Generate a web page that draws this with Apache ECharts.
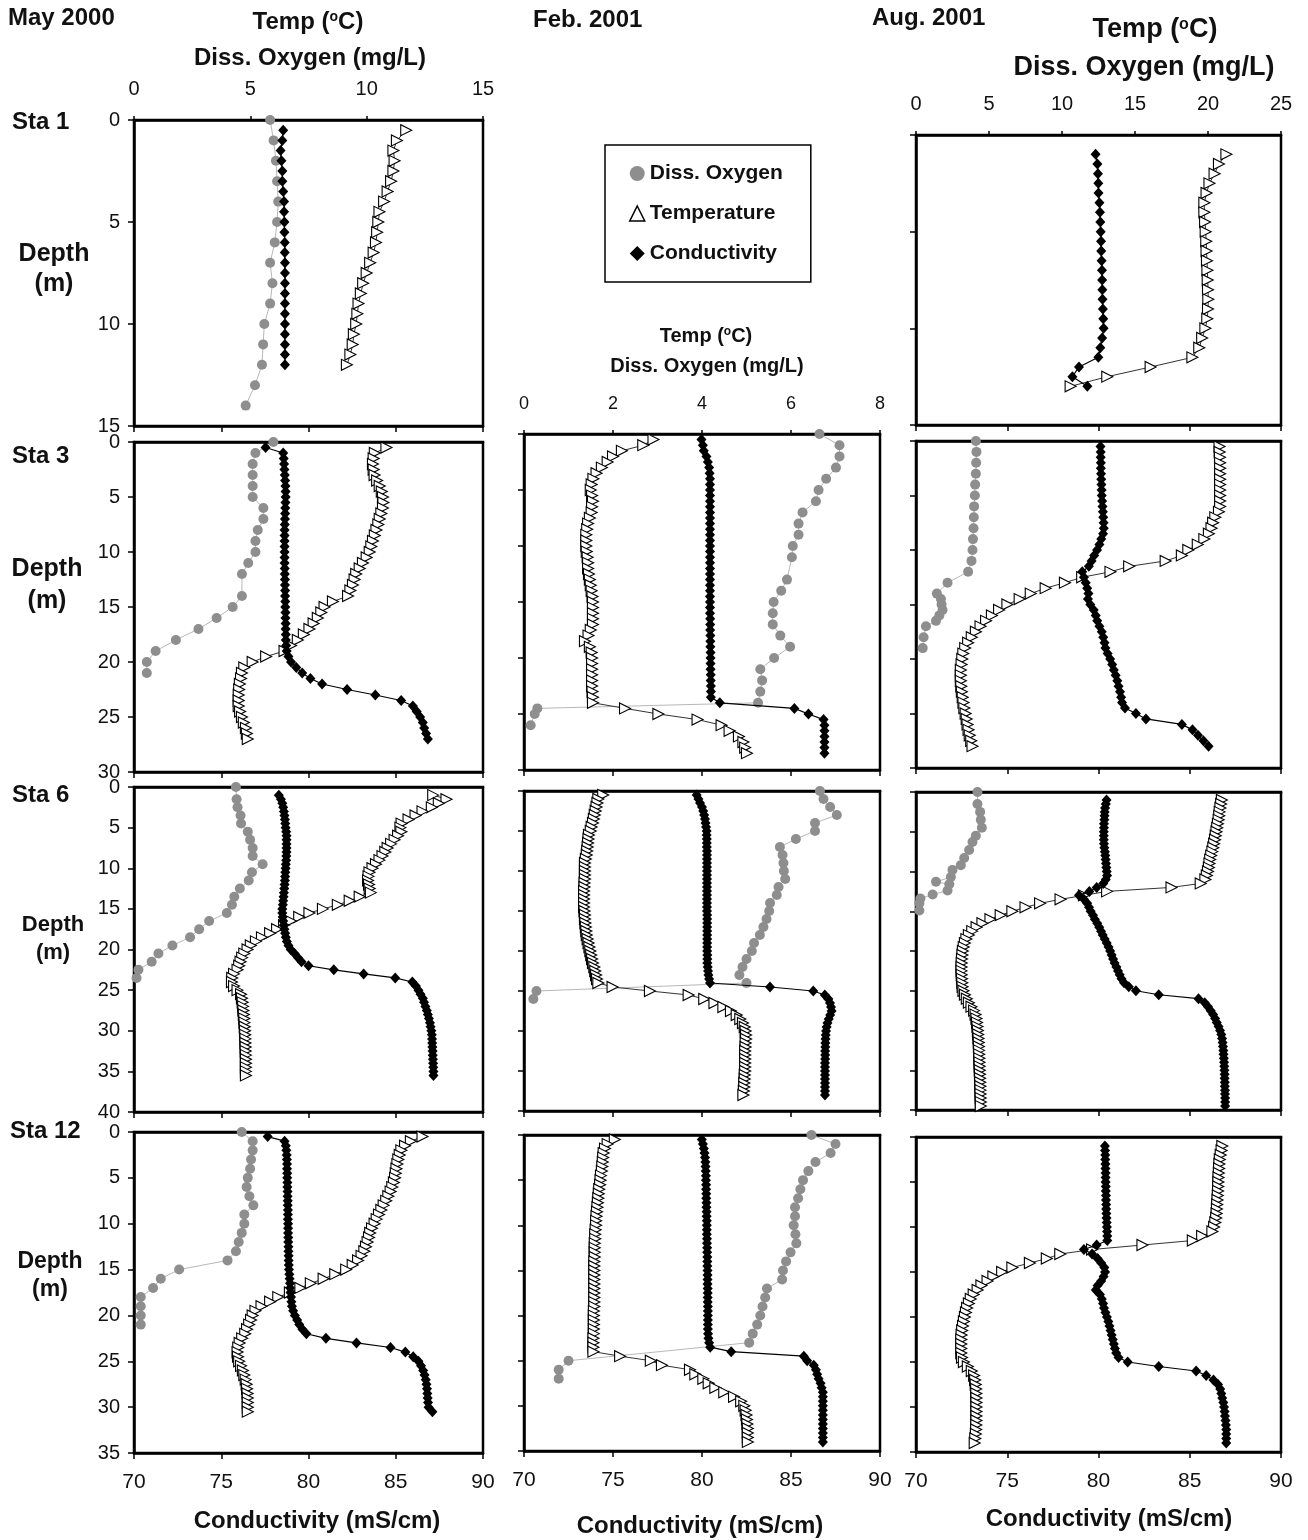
<!DOCTYPE html>
<html>
<head>
<meta charset="utf-8">
<title>Depth profiles</title>
<script src="https://cdn.jsdelivr.net/npm/echarts@6.0.0/dist/echarts.min.js"></script>
<style>
  html, body { margin: 0; padding: 0; background: #fff; }
  #main { width: 1308px; height: 1540px; }
</style>
</head>
<body>
<div id="main"></div>
<script>
// ---------- data ----------
// depth (m) of each CTD reading, temperature (C), conductivity (mS/cm), then oxygen (mg/L) casts

// May 2000, Sta 1
var may1Depth = [0.5,1,1.5,2,2.5,3,3.5,4,4.5,5,5.5,6,6.5,7,7.5,8,8.5,9,9.5,10,10.5,11,11.5,12];
var may1Temp = [11.7,11.3,11.15,11.2,11.15,11.05,10.9,10.75,10.55,10.5,10.45,10.4,10.3,10.15,10.0,9.85,9.75,9.65,9.6,9.55,9.45,9.4,9.3,9.15];
var may1Cond = [78.55,78.5,78.4,78.45,78.5,78.5,78.55,78.6,78.6,78.62,78.62,78.64,78.64,78.65,78.65,78.65,78.65,78.65,78.65,78.65,78.65,78.65,78.65,78.65];
var may1DoDepth = [0,1,2,3,4,5,6,7,8,9,10,11,12,13,14];
var may1Do = [5.85,6.0,6.1,6.15,6.2,6.15,6.05,5.85,5.95,5.85,5.6,5.55,5.5,5.2,4.8];

// May 2000, Sta 3
var may3Depth = [0.5,1,1.5,2,2.5,3,3.5,4,4.5,5,5.5,6,6.5,7,7.5,8,8.5,9,9.5,10,10.5,11,11.5,12,12.5,13,13.5,14,14.5,15,15.5,16,16.5,17,17.5,18,18.5,19,19.5,20,20.5,21,21.5,22,22.5,23,23.5,24,24.5,25,25.5,26,26.5,27];
var may3Temp = [10.85,10.35,10.3,10.27,10.3,10.34,10.45,10.56,10.65,10.7,
  10.72,10.7,10.63,10.56,10.5,10.42,10.35,10.27,10.2,10.13,
  10.0,9.84,9.7,9.55,9.48,9.41,9.3,9.2,8.55,8.19,
  8.05,7.9,7.72,7.54,7.3,7.04,6.75,6.47,5.68,5.1,
  4.74,4.64,4.6,4.55,4.52,4.5,4.5,4.5,4.56,4.64,
  4.72,4.81,4.85,4.89];
var may3Cond = [77.54,78.55,78.58,78.6,78.62,78.64,78.66,78.68,78.69,78.69,
  78.68,78.67,78.66,78.65,78.64,78.63,78.63,78.63,78.63,78.63,
  78.63,78.63,78.64,78.64,78.65,78.65,78.66,78.66,78.67,78.67,
  78.68,78.68,78.69,78.69,78.7,78.7,78.72,78.75,78.85,79.0,
  79.3,79.64,80.11,80.78,82.21,83.83,85.31,85.98,86.2,86.4,
  86.55,86.63,86.74,86.84];
var may3DoDepth = [0,1,2,3,4,5,6,7,8,9,10,11,12,14,15,16,17,18,19,20,21];
var may3Do = [5.99,5.22,5.1,5.1,5.1,5.1,5.56,5.56,5.32,5.22,5.22,4.91,4.64,4.64,4.24,3.55,2.77,1.8,0.93,0.55,0.55];

// May 2000, Sta 6
var may6Depth = [1,1.5,2,2.5,3,3.5,4,4.5,5,5.5,6,6.5,7,7.5,8,8.5,9,9.5,10,10.5,11,11.5,12,12.5,13,13.5,14,14.5,15,15.5,16,16.5,17,17.5,18,18.5,19,19.5,20,20.5,21,21.5,22,22.5,23,23.5,24,24.5,25,25.5,26,26.5,27,27.5,28,28.5,29,29.5,30,30.5,31,31.5,32,32.5,33,33.5,34,34.5,35,35.5];
var may6Temp = [12.86,13.43,13.1,12.8,12.4,12.1,11.8,11.5,11.45,11.49,
  11.35,11.2,11.05,10.9,10.8,10.68,10.55,10.4,10.25,10.12,
  10.08,10.06,10.1,10.13,10.18,9.7,9.27,8.76,8.12,7.54,
  7.1,6.75,6.45,6.15,5.85,5.5,5.24,5.02,4.88,4.74,
  4.65,4.58,4.52,4.45,4.3,4.22,4.21,4.3,4.45,4.6,
  4.64,4.67,4.69,4.7,4.72,4.74,4.75,4.76,4.77,4.78,
  4.79,4.79,4.8,4.8,4.81,4.81,4.81,4.81,4.81,4.81];
var may6Cond = [78.3,78.42,78.5,78.55,78.59,78.62,78.65,78.67,78.69,78.72,
  78.74,78.74,78.74,78.74,78.74,78.73,78.72,78.7,78.69,78.67,
  78.66,78.65,78.63,78.61,78.59,78.57,78.55,78.53,78.5,78.5,
  78.52,78.55,78.58,78.62,78.66,78.7,78.76,78.85,78.98,79.2,
  79.4,79.6,80.0,81.45,83.16,84.97,85.95,86.15,86.3,86.42,
  86.55,86.62,86.7,86.78,86.84,86.9,86.96,87.0,87.04,87.07,
  87.08,87.09,87.1,87.11,87.12,87.13,87.14,87.15,87.16,87.16];
var may6DoDepth = [0,1.5,2.5,3.5,4.5,5.5,6.5,7.5,8.5,9.5,10.5,11.5,12.5,13.5,14.5,15.5,16.5,17.5,18.5,19.5,20.5,21.5,22.5,23.5];
var may6Do = [4.38,4.41,4.45,4.58,4.6,4.89,4.99,5.1,5.1,5.53,5.07,4.93,4.55,4.31,4.21,3.99,3.23,2.8,2.41,1.65,1.05,0.76,0.19,0.11];

// May 2000, Sta 12
var may12Depth = [0.5,1,1.5,2,2.5,3,3.5,4,4.5,5,5.5,6,6.5,7,7.5,8,8.5,9,9.5,10,10.5,11,11.5,12,12.5,13,13.5,14,14.5,15,15.5,16,16.5,17,17.5,18,18.5,19,19.5,20,20.5,21,21.5,22,22.5,23,23.5,24,24.5,25,25.5,26,26.5,27,27.5,28,28.5,29,29.5,30,30.5];
var may12Temp = [12.4,11.9,11.65,11.49,11.42,11.36,11.32,11.28,11.25,11.22,
  11.17,11.1,11.03,10.93,10.84,10.73,10.63,10.53,10.43,10.34,
  10.23,10.15,10.1,10.04,9.97,9.9,9.78,9.63,9.4,9.12,
  8.65,8.15,7.6,7.15,6.7,6.2,5.85,5.48,5.22,5.1,
  5.03,4.95,4.86,4.78,4.65,4.54,4.48,4.45,4.47,4.52,
  4.6,4.68,4.74,4.8,4.84,4.86,4.88,4.89,4.89,4.89,
  4.89];
var may12Cond = [77.66,78.63,78.7,78.73,78.75,78.76,78.77,78.77,78.78,78.78,
  78.79,78.79,78.8,78.8,78.81,78.81,78.82,78.82,78.82,78.83,
  78.83,78.83,78.84,78.84,78.85,78.85,78.86,78.86,78.87,78.88,
  78.9,78.92,78.94,78.95,78.97,79.0,79.02,79.05,79.12,79.22,
  79.35,79.47,79.65,79.88,81.0,82.75,84.7,85.55,86.0,86.3,
  86.45,86.57,86.65,86.72,86.76,86.79,86.81,86.83,86.85,86.88,
  87.1];
var may12DoDepth = [0,1,2,3,4,5,6,7,8,9,10,11,12,13,14,15,16,17,18,19,20,21];
var may12Do = [4.63,5.1,5.1,5.03,4.99,4.89,4.84,4.96,5.13,4.74,4.74,4.63,4.5,4.38,4.02,1.94,1.15,0.82,0.29,0.29,0.29,0.29];

// Feb. 2001, Sta 3
var feb3Depth = [0.5,1,1.5,2,2.5,3,3.5,4,4.5,5,5.5,6,6.5,7,7.5,8,8.5,9,9.5,10,10.5,11,11.5,12,12.5,13,13.5,14,14.5,15,15.5,16,16.5,17,17.5,18,18.5,19,19.5,20,20.5,21,21.5,22,22.5,23,23.5,24,24.5,25,25.5,26,26.5,27,27.5,28,28.5];
var feb3Temp = [2.91,2.68,2.2,2.0,1.88,1.75,1.63,1.56,1.52,1.5,
  1.53,1.55,1.53,1.52,1.48,1.44,1.42,1.4,1.4,1.4,
  1.41,1.43,1.44,1.44,1.46,1.48,1.5,1.52,1.54,1.55,
  1.55,1.55,1.55,1.55,1.5,1.45,1.37,1.48,1.52,1.53,
  1.53,1.53,1.53,1.53,1.53,1.54,1.55,1.55,2.27,3.02,
  3.9,4.44,4.62,4.83,4.93,4.97,5.01];
var feb3Cond = [79.97,80.05,80.1,80.25,80.33,80.4,80.43,80.45,80.45,80.45,
  80.45,80.45,80.45,80.45,80.45,80.45,80.45,80.45,80.45,80.45,
  80.45,80.45,80.45,80.45,80.45,80.45,80.45,80.45,80.45,80.45,
  80.45,80.45,80.46,80.46,80.46,80.47,80.47,80.47,80.48,80.48,
  80.48,80.48,80.49,80.49,80.5,80.5,80.5,81.0,85.19,85.98,
  86.83,86.88,86.88,86.88,86.88,86.88,86.88];
var feb3DoDepth = [0,1,2,3,4,5,6,7,8,9,10,11,13,14,15,16,17,18,19,20,21,22,23,24,24.5,25,26];
var feb3Do = [6.64,7.09,7.09,7.01,6.79,6.62,6.56,6.26,6.17,6.17,6.04,6.02,5.91,5.78,5.61,5.59,5.59,5.76,5.98,5.62,5.31,5.35,5.31,5.26,0.3,0.24,0.15];

// Feb. 2001, Sta 6
var feb6Depth = [0.5,1,1.5,2,2.5,3,3.5,4,4.5,5,5.5,6,6.5,7,7.5,8,8.5,9,9.5,10,10.5,11,11.5,12,12.5,13,13.5,14,14.5,15,15.5,16,16.5,17,17.5,18,18.5,19,19.5,20,20.5,21,21.5,22,22.5,23,23.5,24,24.5,25,25.5,26,26.5,27,27.5,28,28.5,29,29.5,30,30.5,31,31.5,32,32.5,33,33.5,34,34.5,35,35.5,36,36.5,37,37.5,38];
var feb6Temp = [1.78,1.67,1.65,1.63,1.61,1.59,1.57,1.55,1.52,1.5,
  1.46,1.45,1.44,1.43,1.42,1.41,1.39,1.37,1.37,1.37,
  1.37,1.37,1.36,1.36,1.35,1.35,1.35,1.35,1.35,1.36,
  1.37,1.37,1.38,1.39,1.4,1.41,1.43,1.45,1.47,1.49,
  1.51,1.53,1.55,1.58,1.6,1.62,1.64,1.67,1.99,2.83,
  3.7,4.05,4.28,4.48,4.65,4.78,4.86,4.92,4.96,4.98,
  4.99,4.99,4.98,4.98,4.97,4.97,4.97,4.97,4.97,4.97,
  4.96,4.96,4.95,4.95,4.94,4.93];
var feb6Cond = [79.7,79.8,79.89,80.0,80.07,80.12,80.17,80.2,80.23,80.26,
  80.26,80.27,80.27,80.27,80.28,80.28,80.28,80.28,80.28,80.28,
  80.28,80.28,80.28,80.28,80.28,80.28,80.28,80.28,80.28,80.28,
  80.29,80.29,80.29,80.29,80.29,80.29,80.29,80.29,80.29,80.29,
  80.3,80.3,80.3,80.32,80.34,80.36,80.4,80.45,83.82,86.25,
  86.9,87.1,87.19,87.25,87.28,87.2,87.12,87.05,87.0,86.97,
  86.95,86.94,86.93,86.93,86.92,86.92,86.92,86.91,86.91,86.91,
  86.91,86.91,86.91,86.91,86.91,86.91];
var feb6DoDepth = [0,1,2,3,4,5,6,7,8,9,10,11,12,13,14,15,16,17,18,19,20,21,22,23,24,25,26];
var feb6Do = [6.65,6.73,6.88,7.03,6.54,6.54,6.11,5.75,5.81,5.83,5.84,5.87,5.72,5.68,5.53,5.51,5.45,5.38,5.3,5.17,5.12,5.0,4.91,4.84,5.0,0.28,0.21];

// Feb. 2001, Sta 12
var feb12Depth = [0.5,1,1.5,2,2.5,3,3.5,4,4.5,5,5.5,6,6.5,7,7.5,8,8.5,9,9.5,10,10.5,11,11.5,12,12.5,13,13.5,14,14.5,15,15.5,16,16.5,17,17.5,18,18.5,19,19.5,20,20.5,21,21.5,22,22.5,23,23.5,24,24.5,25,25.5,26,26.5,27,27.5,28,28.5,29,29.5,30,30.5,31,31.5,32,32.5,33,33.5,34];
var feb12Temp = [2.04,1.88,1.82,1.79,1.78,1.77,1.76,1.75,1.73,1.72,
  1.71,1.69,1.68,1.67,1.66,1.65,1.64,1.63,1.62,1.62,
  1.61,1.6,1.6,1.59,1.59,1.59,1.59,1.58,1.58,1.58,
  1.58,1.58,1.58,1.58,1.58,1.58,1.58,1.58,1.57,1.57,
  1.57,1.57,1.57,1.57,1.56,1.56,1.56,1.56,2.16,2.85,
  3.1,3.73,3.85,4.03,4.15,4.3,4.5,4.72,4.88,4.95,
  4.98,5.0,5.01,5.02,5.03,5.03,5.03,5.03];
var feb12Cond = [79.99,80.05,80.1,80.14,80.17,80.19,80.2,80.21,80.22,80.22,
  80.23,80.23,80.24,80.24,80.25,80.25,80.26,80.26,80.27,80.27,
  80.27,80.27,80.28,80.28,80.29,80.29,80.3,80.3,80.3,80.31,
  80.31,80.31,80.31,80.32,80.32,80.32,80.32,80.33,80.33,80.33,
  80.33,80.33,80.33,80.34,80.36,80.4,80.46,81.64,85.72,85.91,
  86.28,86.4,86.47,86.55,86.66,86.72,86.79,86.79,86.79,86.79,
  86.79,86.79,86.79,86.79,86.79,86.79,86.79,86.79];
var feb12DoDepth = [0,1,2,3,4,5,6,7,8,9,10,11,12,13,14,15,16,17,18,19,20,21,22,23,25,26,27];
var feb12Do = [6.46,7.0,6.89,6.55,6.39,6.27,6.21,6.16,6.09,6.09,6.06,6.1,6.12,5.99,5.89,5.82,5.8,5.46,5.42,5.36,5.31,5.24,5.14,5.06,1.0,0.78,0.78];

// Aug. 2001, Sta 1 (no oxygen cast)
var aug1Depth = [1,1.5,2,2.5,3,3.5,4,4.5,5,5.5,6,6.5,7,7.5,8,8.5,9,9.5,10,10.5,11,11.5,12,12.5,13];
var aug1Temp = [21.26,20.75,20.45,20.1,19.9,19.75,19.75,19.8,19.84,19.88,19.9,19.93,19.96,19.98,20.0,20.02,20.0,19.95,19.82,19.6,19.4,18.93,16.07,13.1,10.59];
var aug1Cond = [79.84,79.94,79.97,79.99,80.0,80.05,80.08,80.1,80.12,80.14,80.15,80.17,80.19,80.2,80.21,80.22,80.24,80.26,80.28,80.2,80.1,79.99,78.93,78.57,79.39];

// Aug. 2001, Sta 3
var aug3Depth = [0.5,1,1.5,2,2.5,3,3.5,4,4.5,5,5.5,6,6.5,7,7.5,8,8.5,9,9.5,10,10.5,11,11.5,12,12.5,13,13.5,14,14.5,15,15.5,16,16.5,17,17.5,18,18.5,19,19.5,20,20.5,21,21.5,22,22.5,23,23.5,24,24.5,25,25.5,26,26.5,27,27.5,28];
var aug3Temp = [20.79,20.8,20.82,20.83,20.83,20.83,20.83,20.83,20.83,20.83,
  20.83,20.83,20.75,20.5,20.35,20.24,20.06,19.75,19.3,18.65,
  18.21,17.1,14.6,13.32,11.38,10.2,8.88,7.86,7.1,6.26,
  5.69,5.2,4.8,4.42,4.1,3.82,3.57,3.37,3.24,3.17,
  3.12,3.07,3.07,3.07,3.1,3.14,3.2,3.25,3.31,3.4,
  3.47,3.53,3.6,3.68,3.78,3.87];
var aug3Cond = [80.11,80.12,80.12,80.13,80.13,80.14,80.15,80.16,80.17,80.18,
  80.2,80.22,80.24,80.26,80.28,80.29,80.25,80.15,80.05,79.92,
  79.76,79.62,79.47,79.11,79.2,79.3,79.38,79.45,79.42,79.55,
  79.74,79.85,79.93,80.05,80.18,80.26,80.33,80.38,80.5,80.64,
  80.75,80.84,80.94,81.03,81.1,81.18,81.24,81.29,81.45,82.05,
  82.6,84.57,85.15,85.45,85.75,86.03];
var aug3DoDepth = [0,1,2,3,4,5,6,7,8,9,10,11,12,13,14,14.5,15,15.5,16,16.5,17,18,19];
var aug3Do = [4.1,4.14,4.12,4.1,4.05,4.03,3.98,3.96,3.94,3.9,3.87,3.8,3.57,2.16,1.43,1.71,1.75,1.82,1.6,1.37,0.68,0.52,0.46];

// Aug. 2001, Sta 6
var aug6Depth = [1,1.5,2,2.5,3,3.5,4,4.5,5,5.5,6,6.5,7,7.5,8,8.5,9,9.5,10,10.5,11,11.5,12,12.5,13,13.5,14,14.5,15,15.5,16,16.5,17,17.5,18,18.5,19,19.5,20,20.5,21,21.5,22,22.5,23,23.5,24,24.5,25,25.5,26,26.5,27,27.5,28,28.5,29,29.5,30,30.5,31,31.5,32,32.5,33,33.5,34,34.5,35,35.5,36,36.5,37,37.5,38,38.5,39,39.5];
var aug6Temp = [20.95,20.9,20.85,20.8,20.77,20.73,20.68,20.63,20.58,20.53,
  20.48,20.42,20.36,20.3,20.22,20.15,20.1,20.06,20.0,19.92,
  19.82,19.5,17.5,13.09,11.5,9.9,8.5,7.5,6.6,5.8,
  5.1,4.55,4.15,3.85,3.62,3.45,3.35,3.27,3.21,3.18,
  3.15,3.13,3.12,3.12,3.13,3.15,3.17,3.19,3.25,3.35,
  3.48,3.62,3.8,3.98,4.08,4.14,4.18,4.21,4.24,4.26,
  4.28,4.3,4.31,4.32,4.33,4.34,4.35,4.36,4.37,4.38,
  4.39,4.4,4.41,4.42,4.42,4.43,4.44,4.44];
var aug6Cond = [80.44,80.4,80.36,80.34,80.33,80.32,80.3,80.3,80.29,80.29,
  80.29,80.3,80.32,80.35,80.37,80.39,80.41,80.43,80.45,80.47,
  80.4,80.26,79.9,79.5,78.93,79.2,79.38,79.48,79.57,79.7,
  79.8,79.93,80.04,80.14,80.23,80.34,80.45,80.55,80.64,80.72,
  80.8,80.88,80.98,81.07,81.16,81.26,81.4,81.66,82.05,83.3,
  85.48,85.82,86.0,86.15,86.28,86.39,86.48,86.58,86.66,86.73,
  86.77,86.8,86.82,86.84,86.85,86.87,86.88,86.89,86.9,86.91,
  86.91,86.92,86.92,86.93,86.93,86.94,86.94,86.94];
var aug6DoDepth = [0,1.5,2.5,3.5,4.5,5.5,6.3,7.3,8.3,9.2,9.8,10.7,11.3,11.6,12.4,12.9,13.4,14,14.9];
var aug6Do = [4.21,4.21,4.39,4.44,4.51,4.1,3.87,3.64,3.3,3.07,2.5,2.39,1.37,2.28,2.16,1.14,0.3,0.23,0.23];

// Aug. 2001, Sta 12 (no oxygen cast)
var aug12Depth = [1,1.5,2,2.5,3,3.5,4,4.5,5,5.5,6,6.5,7,7.5,8,8.5,9,9.5,10,10.5,11,11.5,12,12.5,13,13.5,14,14.5,15,15.5,16,16.5,17,17.5,18,18.5,19,19.5,20,20.5,21,21.5,22,22.5,23,23.5,24,24.5,25,25.5,26,26.5,27,27.5,28,28.5,29,29.5,30,30.5,31,31.5,32,32.5,33,33.5,34];
var aug12Temp = [20.98,20.93,20.87,20.81,20.78,20.76,20.74,20.72,20.71,20.7,
  20.69,20.67,20.65,20.63,20.61,20.59,20.56,20.5,20.42,20.3,
  19.6,18.96,15.51,12.06,9.88,8.96,7.8,6.6,5.9,5.3,
  4.9,4.48,4.22,3.95,3.75,3.62,3.5,3.42,3.35,3.28,
  3.22,3.16,3.12,3.1,3.1,3.1,3.1,3.15,3.28,3.55,
  3.82,3.98,4.05,4.09,4.12,4.13,4.14,4.14,4.14,4.14,
  4.14,4.14,4.13,4.12,4.1,4.06,4.02];
var aug12Cond = [80.35,80.36,80.37,80.37,80.38,80.38,80.39,80.39,80.39,80.4,
  80.4,80.41,80.41,80.42,80.42,80.43,80.44,80.45,80.46,80.47,
  80.48,80.48,79.9,79.2,79.65,79.95,80.15,80.32,80.36,80.28,
  80.15,79.95,79.85,80.08,80.18,80.25,80.3,80.38,80.46,80.54,
  80.6,80.66,80.72,80.78,80.84,80.9,80.97,81.1,81.6,83.3,
  85.35,85.9,86.3,86.55,86.67,86.73,86.78,86.84,86.88,86.91,
  86.93,86.96,86.98,87.0,87.0,87.0,87.0];

// ---------- layout ----------
var FONT = '"Liberation Sans", Arial, Helvetica, sans-serif';

// one entry per plotted box; tMax/tInt = temp & oxygen scale of that column
var panels = [
  {left: 134, top: 120, width: 349, height: 306, tMax: 15, tInt: 5, dMax: 15, col: 0, topFont: 20,
   ctd: may1Depth, temp: may1Temp, cond: may1Cond, doDepth: may1DoDepth, dox: may1Do},
  {left: 134, top: 442, width: 349, height: 330, tMax: 15, tInt: 5, dMax: 30, col: 0,
   ctd: may3Depth, temp: may3Temp, cond: may3Cond, doDepth: may3DoDepth, dox: may3Do},
  {left: 134, top: 787, width: 349, height: 325, tMax: 15, tInt: 5, dMax: 40, col: 0,
   ctd: may6Depth, temp: may6Temp, cond: may6Cond, doDepth: may6DoDepth, dox: may6Do},
  {left: 134, top: 1132, width: 349, height: 321, tMax: 15, tInt: 5, dMax: 35, col: 0, bottom: true,
   ctd: may12Depth, temp: may12Temp, cond: may12Cond, doDepth: may12DoDepth, dox: may12Do},

  {left: 524, top: 434, width: 356, height: 336, tMax: 8, tInt: 2, dMax: 30, col: 1, topFont: 18,
   ctd: feb3Depth, temp: feb3Temp, cond: feb3Cond, doDepth: feb3DoDepth, dox: feb3Do},
  {left: 524, top: 791, width: 356, height: 320, tMax: 8, tInt: 2, dMax: 40, col: 1,
   ctd: feb6Depth, temp: feb6Temp, cond: feb6Cond, doDepth: feb6DoDepth, dox: feb6Do},
  {left: 524, top: 1135, width: 356, height: 316, tMax: 8, tInt: 2, dMax: 35, col: 1, bottom: true,
   ctd: feb12Depth, temp: feb12Temp, cond: feb12Cond, doDepth: feb12DoDepth, dox: feb12Do},

  {left: 916, top: 135, width: 365, height: 290, tMax: 25, tInt: 5, dMax: 15, col: 2, topFont: 20,
   ctd: aug1Depth, temp: aug1Temp, cond: aug1Cond},
  {left: 916, top: 441, width: 365, height: 327, tMax: 25, tInt: 5, dMax: 30, col: 2,
   ctd: aug3Depth, temp: aug3Temp, cond: aug3Cond, doDepth: aug3DoDepth, dox: aug3Do},
  {left: 916, top: 792, width: 365, height: 318, tMax: 25, tInt: 5, dMax: 40, col: 2,
   ctd: aug6Depth, temp: aug6Temp, cond: aug6Cond, doDepth: aug6DoDepth, dox: aug6Do},
  {left: 916, top: 1137, width: 365, height: 315, tMax: 25, tInt: 5, dMax: 35, col: 2, bottom: true,
   ctd: aug12Depth, temp: aug12Temp, cond: aug12Cond}
];

function pairs(xs, depths) {
  return xs.map(function (v, i) { return [v, depths[i]]; });
}

var grids = [], xAxes = [], yAxes = [], series = [];

panels.forEach(function (p, i) {
  grids.push({
    left: p.left, top: p.top, width: p.width, height: p.height,
    show: true, borderColor: '#000', borderWidth: 2.5, containLabel: false
  });

  // top: temperature / oxygen
  xAxes.push({
    gridIndex: i, type: 'value', position: 'top', min: 0, max: p.tMax, interval: p.tInt,
    axisLine: {show: true, onZero: false, lineStyle: {color: '#000', width: 2.5}},
    axisTick: {show: !!p.topFont, length: 4, lineStyle: {color: '#000', width: 1.5}},
    axisLabel: {show: !!p.topFont, margin: 21, fontSize: p.topFont || 12, color: '#111', fontFamily: FONT},
    splitLine: {show: false}
  });
  // bottom: conductivity
  xAxes.push({
    gridIndex: i, type: 'value', position: 'bottom', min: 70, max: 90, interval: 5,
    axisLine: {show: true, onZero: false, lineStyle: {color: '#000', width: 2.5}},
    axisTick: {show: true, length: 6, lineStyle: {color: '#000', width: 1.5}},
    axisLabel: {show: !!p.bottom, margin: 19, fontSize: 21, color: '#111', fontFamily: FONT},
    splitLine: {show: false}
  });
  // depth, downwards
  yAxes.push({
    gridIndex: i, type: 'value', inverse: true, min: 0, max: p.dMax, interval: 5,
    axisLine: {show: true, onZero: false, lineStyle: {color: '#000', width: 2.5}},
    axisTick: {show: true, length: 6, lineStyle: {color: '#000', width: 1.5}},
    axisLabel: {show: p.col === 0, margin: 14, fontSize: 20, color: '#111', fontFamily: FONT},
    splitLine: {show: false}
  });

  if (p.dox) {
    series.push({
      name: 'Diss. Oxygen', type: 'line', xAxisIndex: 2 * i, yAxisIndex: i,
      data: pairs(p.dox, p.doDepth), showAllSymbol: true, clip: false, silent: true, z: 2,
      symbol: 'circle', symbolSize: 10,
      itemStyle: {color: '#8e8e8e'},
      lineStyle: {color: '#b8b8b8', width: 1}
    });
  }
  series.push({
    name: 'Temperature', type: 'line', xAxisIndex: 2 * i, yAxisIndex: i,
    data: pairs(p.temp, p.ctd), showAllSymbol: true, clip: false, silent: true, z: 3,
    symbol: 'triangle', symbolRotate: -90, symbolSize: 11,
    itemStyle: {color: '#fff', borderColor: '#000', borderWidth: 1.1},
    lineStyle: {color: '#333', width: 1}
  });
  series.push({
    name: 'Conductivity', type: 'line', xAxisIndex: 2 * i + 1, yAxisIndex: i,
    data: pairs(p.cond, p.ctd), showAllSymbol: true, clip: false, silent: true, z: 4,
    symbol: 'diamond', symbolSize: [10, 11],
    itemStyle: {color: '#000'},
    lineStyle: {color: '#000', width: 1.2}
  });
});

// plain text labels
function txt(text, x, y, size, align) {
  return {
    type: 'text', x: x, y: y, silent: true,
    style: {text: text, fontSize: size, fontWeight: 'bold', fontFamily: FONT, fill: '#111',
            align: align || 'center', verticalAlign: 'middle'}
  };
}
// "Temp (oC)" with raised o
function tempTitle(x, y, size) {
  return {
    type: 'text', x: x, y: y, silent: true,
    style: {
      text: '{a|Temp (}{s|o}{a|C)}', align: 'center', verticalAlign: 'middle',
      rich: {
        a: {fontSize: size, fontWeight: 'bold', fontFamily: FONT, fill: '#111'},
        s: {fontSize: Math.round(size * 0.6), fontWeight: 'bold', fontFamily: FONT, fill: '#111', verticalAlign: 'top'}
      }
    }
  };
}

var texts = [
  txt('May 2000', 8, 18, 24, 'left'),
  txt('Feb. 2001', 533, 20, 24, 'left'),
  txt('Aug. 2001', 872, 18, 24, 'left'),

  tempTitle(308, 22, 24),
  txt('Diss. Oxygen (mg/L)', 310, 58, 24),
  tempTitle(706, 336, 20),
  txt('Diss. Oxygen (mg/L)', 707, 366, 20),
  tempTitle(1155, 30, 27),
  txt('Diss. Oxygen (mg/L)', 1144, 68, 27),

  txt('Sta 1', 12, 122, 24, 'left'),
  txt('Sta 3', 12, 456, 24, 'left'),
  txt('Sta 6', 12, 795, 24, 'left'),
  txt('Sta 12', 10, 1131, 24, 'left'),

  txt('Depth', 54, 254, 25), txt('(m)', 54, 284, 25),
  txt('Depth', 47, 569, 25), txt('(m)', 47, 601, 25),
  txt('Depth', 53, 925, 22), txt('(m)', 53, 953, 22),
  txt('Depth', 50, 1262, 23), txt('(m)', 50, 1290, 23),

  txt('Conductivity (mS/cm)', 317, 1521, 24),
  txt('Conductivity (mS/cm)', 700, 1526, 24),
  txt('Conductivity (mS/cm)', 1109, 1519, 24)
];

var option = {
  animation: false,
  backgroundColor: '#fff',
  grid: grids,
  xAxis: xAxes,
  yAxis: yAxes,
  series: series,
  legend: {
    orient: 'vertical', left: 605, top: 145,
    padding: [18, 28, 18, 24], itemGap: 19, itemWidth: 15, itemHeight: 15,
    borderColor: '#000', borderWidth: 1.5, selectedMode: false,
    textStyle: {fontFamily: FONT, fontWeight: 'bold', fontSize: 21, color: '#111'},
    data: [
      {name: 'Diss. Oxygen', icon: 'circle', itemStyle: {color: '#8e8e8e', borderWidth: 0}},
      {name: 'Temperature', icon: 'triangle', itemStyle: {color: '#fff', borderColor: '#000', borderWidth: 1.5}},
      {name: 'Conductivity', icon: 'diamond', itemStyle: {color: '#000', borderWidth: 0}}
    ]
  },
  graphic: texts
};

var chart = echarts.init(document.getElementById('main'));
chart.setOption(option);
</script>
</body>
</html>
